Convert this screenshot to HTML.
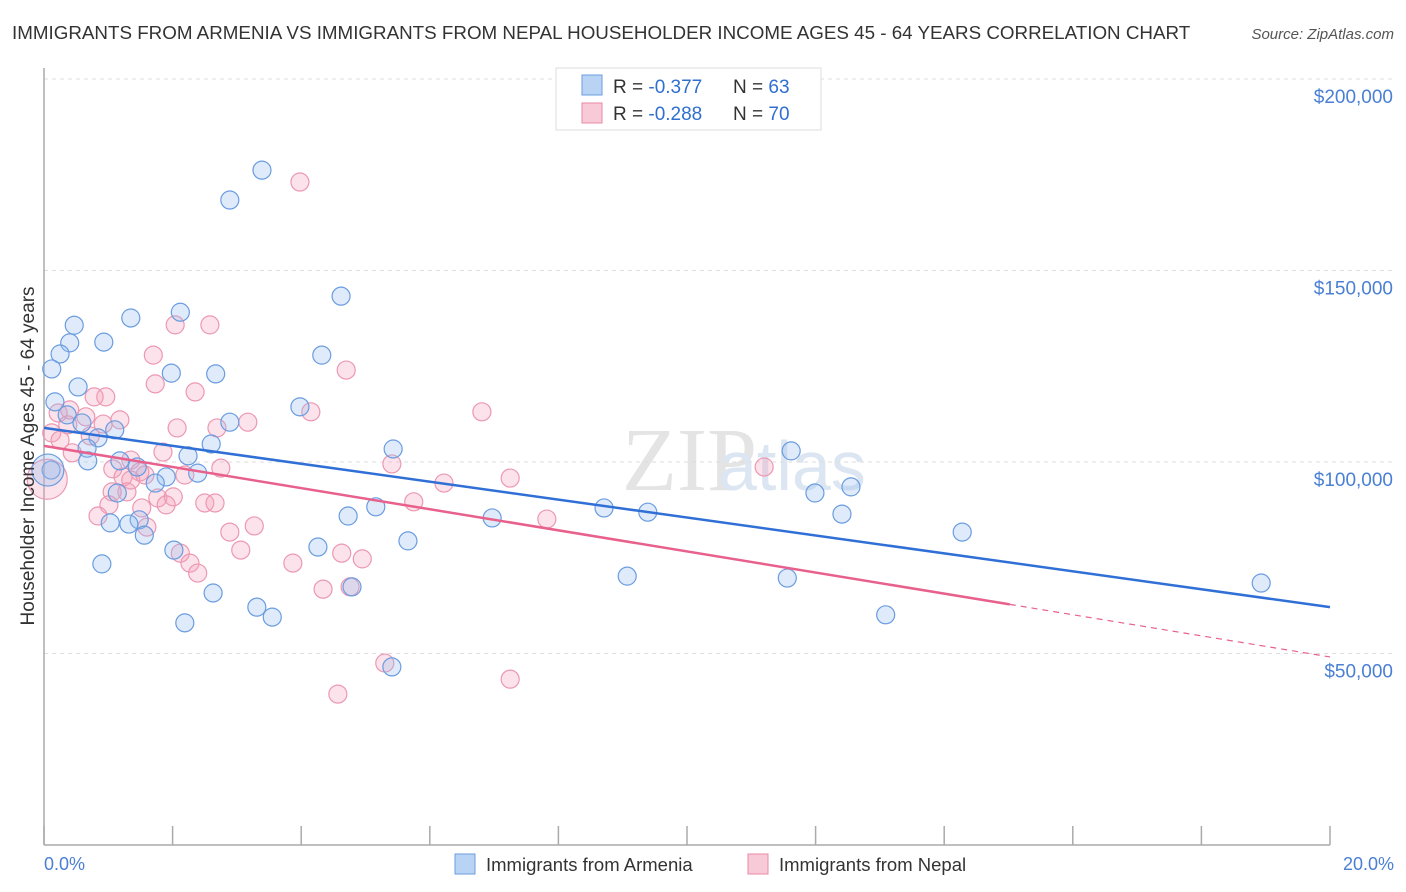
<!DOCTYPE html>
<html><head><meta charset="utf-8"><style>
body{margin:0;background:#fff;font-family:"Liberation Sans",sans-serif;}
#wrap{position:relative;width:1406px;height:892px;overflow:hidden;}
</style></head><body>
<div id="wrap">
<svg id="svg" width="1406" height="892" xmlns="http://www.w3.org/2000/svg">
<text x="12" y="39" font-size="18.8" fill="#333">IMMIGRANTS FROM ARMENIA VS IMMIGRANTS FROM NEPAL HOUSEHOLDER INCOME AGES 45 - 64 YEARS CORRELATION CHART</text>
<text x="1394" y="39" font-size="15" fill="#555" font-style="italic" text-anchor="end">Source: ZipAtlas.com</text>
<text x="622" y="490" font-size="90" fill="#e4e4e4" font-family="Liberation Serif">ZIP</text>
<text x="718" y="490" font-size="70" fill="#dce6f2">atlas</text>
<g id="grid"></g>
<line x1="44" y1="68" x2="44" y2="845" stroke="#aaa" stroke-width="1.5"/>
<line x1="44" y1="845" x2="1330" y2="845" stroke="#aaa" stroke-width="1.5"/>
<g id="xticks"></g>
<g id="pts"></g>
<g id="trend"></g>
<text transform="translate(34,456) rotate(-90)" font-size="19" fill="#333" text-anchor="middle">Householder Income Ages 45 - 64 years</text>
<text x="44" y="870" font-size="18" fill="#4a7fd4">0.0%</text>
<text x="1394" y="870" font-size="18" fill="#4a7fd4" text-anchor="end">20.0%</text>
<g>
<rect x="556" y="68" width="265" height="62" fill="#fff" stroke="#ddd"/>
<rect x="582" y="75" width="20" height="20" fill="#b9d3f5" stroke="#6a9ce0"/>
<rect x="582" y="103" width="20" height="20" fill="#f8c9d6" stroke="#e88aa6"/>
<text x="613" y="93" font-size="19" fill="#333">R = <tspan fill="#2f6fd0">-0.377</tspan></text>
<text x="733" y="93" font-size="19" fill="#333">N = <tspan fill="#2f6fd0">63</tspan></text>
<text x="613" y="120" font-size="19" fill="#333">R = <tspan fill="#2f6fd0">-0.288</tspan></text>
<text x="733" y="120" font-size="19" fill="#333">N = <tspan fill="#2f6fd0">70</tspan></text>
</g>
<g>
<rect x="455" y="854" width="20" height="20" fill="#b9d3f5" stroke="#6a9ce0"/>
<text x="486" y="871" font-size="18.5" fill="#333">Immigrants from Armenia</text>
<rect x="748" y="854" width="20" height="20" fill="#f8c9d6" stroke="#e88aa6"/>
<text x="779" y="871" font-size="18.5" fill="#333">Immigrants from Nepal</text>
</g>
</svg>
</div>
<script>
const yTicks=[50,100,150,200];
const yTickLabels=["$50,000","$100,000","$150,000","$200,000"];
const xTicks=[0,2,4,6,8,10,12,14,16,18,20];
const armX=[3.39,2.89,4.62,2.12,1.35,0.47,0.40,0.93,0.25,4.32,0.12,1.98,2.67,0.53,0.17,3.98,0.36,2.89,0.59,1.10,0.84,2.60,5.43,0.67,11.62,0.68,1.18,2.24,1.45,1.90,2.39,1.73,0.11,1.14,11.99,12.55,12.41,5.16,4.73,8.71,9.39,6.97,1.48,1.03,1.32,1.56,14.28,5.66,4.26,2.02,0.90,9.07,11.56,18.93,4.79,2.63,3.31,3.55,2.19,13.09,5.41,0.06];
const armY=[176.2,168.4,143.3,139.1,137.6,135.7,131.1,131.3,128.2,127.9,124.3,123.2,123.0,119.6,115.7,114.4,112.3,110.4,110.2,108.4,106.3,104.7,103.4,103.6,102.9,100.3,100.3,101.6,98.7,96.1,97.1,94.5,97.9,91.9,91.9,93.5,86.4,88.3,85.9,88.0,86.9,85.4,84.9,84.1,83.8,80.9,81.7,79.4,77.8,77.0,73.4,70.2,69.7,68.4,67.4,65.8,62.1,59.5,58.0,60.1,46.5,97.9];
const armR=[9,9,9,9,9,9,9,9,9,9,9,9,9,9,9,9,9,9,9,9,9,9,9,9,9,9,9,9,9,9,9,9,9,9,9,9,9,9,9,9,9,9,9,9,9,9,9,9,9,9,9,9,9,9,9,9,9,9,9,9,9,16];
const nepX=[3.98,2.04,2.58,1.70,4.70,1.73,2.35,0.96,0.78,0.40,4.15,6.81,1.18,3.17,0.22,0.37,0.65,2.07,2.69,0.92,0.12,0.25,0.72,0.44,1.85,5.41,11.20,7.25,1.35,2.19,2.75,1.49,1.07,1.23,6.22,5.75,1.29,1.77,2.01,2.50,2.66,1.90,1.01,0.84,7.82,1.52,3.27,2.89,1.60,2.12,3.06,4.63,4.95,3.87,2.27,2.39,4.34,4.76,5.30,7.25,4.57,1.35,1.57,1.06,0.05];
const nepY=[173.1,135.8,135.8,127.9,124.0,120.4,118.3,117.0,117.0,113.6,113.1,113.1,111.0,110.4,112.8,109.7,111.8,108.9,108.9,109.9,107.6,105.7,106.8,102.4,102.6,99.5,98.7,95.8,100.5,96.6,98.4,97.4,98.2,96.1,94.5,89.6,92.2,90.6,90.9,89.3,89.3,88.8,88.8,85.9,85.1,88.0,83.3,81.7,83.0,76.2,77.0,76.2,74.7,73.6,73.6,71.0,66.8,67.4,47.5,43.3,39.4,95.3,96.6,92.2,95.5];
const nepR=[9,9,9,9,9,9,9,9,9,9,9,9,9,9,9,9,9,9,9,9,9,9,9,9,9,9,9,9,9,9,9,9,9,9,9,9,9,9,9,9,9,9,9,9,9,9,9,9,9,9,9,9,9,9,9,9,9,9,9,9,9,9,9,9,20];
const armTrend=[108.9,62.1];
const nepTrend=[104.2,49.1];
const nepSolidEnd=15.02;
const NS="http://www.w3.org/2000/svg";
function xs(v){return 44+v*64.3;}
function ys(v){return 845-v*3.83;}
function mk(t,a,p){const e=document.createElementNS(NS,t);for(const k in a)e.setAttribute(k,a[k]);p.appendChild(e);return e;}
const grid=document.getElementById('grid');
yTicks.forEach((t,i)=>{
  const l=mk('line',{x1:44,x2:1394,y1:ys(t),y2:ys(t),stroke:'#ddd','stroke-dasharray':'4,4'},grid);
  
  
  const tx=mk('text',{x:1393,y:ys(t)+24,'font-size':19,fill:'#4a7fd4','text-anchor':'end'},grid);
  tx.textContent=yTickLabels[i];
  
  
});
const xt=document.getElementById('xticks');
xTicks.forEach(t=>{
  const l=mk('line',{x1:xs(t),x2:xs(t),y1:826,y2:845,stroke:'#aaa','stroke-width':1.5},xt);
  
  
});
const pts=document.getElementById('pts');
nepX.forEach((x,i)=>{
  const c=mk('circle',{cx:xs(x),cy:ys(nepY[i]),r:nepR[i],fill:'rgba(244,160,186,0.3)',stroke:'#ec98b2','stroke-width':1.2},pts);
  
  
});
armX.forEach((x,i)=>{
  const c=mk('circle',{cx:xs(x),cy:ys(armY[i]),r:armR[i],fill:'rgba(150,190,240,0.3)',stroke:'#6a9ce0','stroke-width':1.2},pts);
  
  
});
const tr=document.getElementById('trend');
const a=mk('line',{x1:xs(0),y1:ys(armTrend[0]),x2:xs(20),y2:ys(armTrend[1]),stroke:'#2f6fd6','stroke-width':2.5},tr);


const ny=v=>nepTrend[0]+(nepTrend[1]-nepTrend[0])*v/20;
const b=mk('line',{x1:xs(0),y1:ys(nepTrend[0]),x2:xs(nepSolidEnd),y2:ys(ny(nepSolidEnd)),stroke:'#e8608c','stroke-width':2.5},tr);


const d=mk('line',{x1:xs(nepSolidEnd),y1:ys(ny(nepSolidEnd)),x2:xs(20),y2:ys(nepTrend[1]),stroke:'#e8608c','stroke-width':1.2,'stroke-dasharray':'6,5'},tr);


</script>
</body></html>
